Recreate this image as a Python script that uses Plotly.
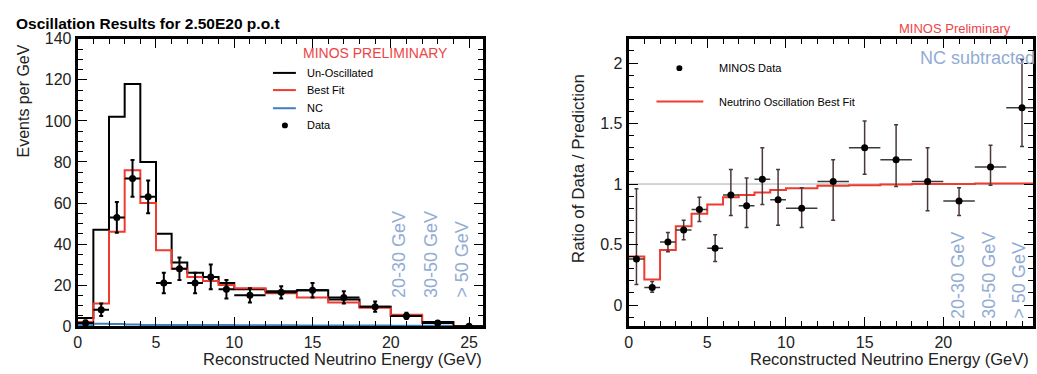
import plotly.graph_objects as go

W, H = 1037, 374

# ---------------- Data: left panel (events per GeV) ----------------
edges_L = [0, 1, 2, 3, 4, 5, 6, 7, 8, 9, 10, 12, 14, 16, 18, 20, 22, 24, 26]
unosc = [4, 47, 102, 118, 80, 45, 31, 26, 24, 21, 18, 17, 17.5, 13, 9.5, 5, 2, 0]
bestfit = [2, 11, 46, 76, 60, 37, 28, 24, 22, 20, 18.5, 16, 14, 11.5, 9, 5.5, 1.5, 0]
nc = [0.5, 1.2, 1.0, 0.8, 0.6, 0.5, 0.5, 0.5, 0.5, 0.5, 0.4, 0.4, 0.3, 0.3, 0.3, 0.2, 0.2, 0.1]

data_x = [0.5, 1.5, 2.5, 3.5, 4.5, 5.5, 6.5, 7.5, 8.5, 9.5, 11, 13, 15, 17, 19, 21, 23, 25]
data_xerr = [0.5] * 10 + [1] * 8
data_y = [1.5, 8, 53, 72, 63, 21, 28, 21, 24, 18, 15, 16.5, 17.5, 14, 9.5, 5, 1.5, 0]
data_yerr = [1.2, 3, 7.5, 9, 8, 5, 5.5, 5, 6, 4.5, 3.5, 3, 3.5, 3, 2.5, 1.5, 1, 0]

# ---------------- Data: right panel (ratio) ----------------
edges_R = [0, 1, 2, 3, 4, 5, 6, 7, 8, 9, 10, 12, 14, 16, 18, 20, 22, 24, 26]
ratio_fit = [0.40, 0.21, 0.455, 0.65, 0.755, 0.83, 0.89, 0.91, 0.93, 0.95, 0.965,
             0.985, 0.99, 0.995, 1.0, 1.0, 1.005, 1.005]
ratio_x = data_x
ratio_xerr = data_xerr
ratio_y = [0.38, 0.145, 0.52, 0.62, 0.79, 0.47, 0.91, 0.82, 1.04, 0.87, 0.80, 1.02,
           1.30, 1.20, 1.02, 0.86, 1.14, 1.63]
ratio_eup = [0.58, 0.05, 0.08, 0.08, 0.10, 0.11, 0.21, 0.23, 0.26, 0.25, 0.17, 0.18,
             0.22, 0.29, 0.28, 0.11, 0.18, 0.40]
ratio_edn = [0.21, 0.04, 0.08, 0.08, 0.10, 0.11, 0.17, 0.18, 0.21, 0.21, 0.16, 0.32,
             0.22, 0.22, 0.24, 0.12, 0.15, 0.32]
ratio_xticks = [0, 5, 10, 15, 20]

energy_labels = ["20-30 GeV", "30-50 GeV", "> 50 GeV"]

FONT = "Liberation Sans, Arial, sans-serif"
RED = "#ef3b2f"
BLUE_NC = "#3d7fc1"
LIGHTBLUE = "#92acd4"


def px(x):
    return x / W


def py(y):
    return 1 - y / H


def step(edges, vals):
    return list(edges), list(vals) + [vals[-1]]


fig = go.Figure()

# left panel traces
for vals, col in [(nc, BLUE_NC), (unosc, "black"), (bestfit, RED)]:
    xs, ys = step(edges_L, vals)
    fig.add_trace(go.Scatter(x=xs, y=ys, mode="lines", line=dict(color=col, width=2, shape="hv"),
                             xaxis="x", yaxis="y", showlegend=False, hoverinfo="skip"))

fig.add_trace(go.Scatter(
    x=data_x, y=data_y, mode="markers",
    marker=dict(color="black", size=7),
    error_x=dict(type="data", array=data_xerr, color="black", thickness=2, width=0),
    error_y=dict(type="data", array=data_yerr, color="black", thickness=2, width=2),
    xaxis="x", yaxis="y", showlegend=False))

# right panel traces
fig.add_trace(go.Scatter(x=[0, 26], y=[1, 1], mode="lines", line=dict(color="#aaaaaa", width=1),
                         xaxis="x2", yaxis="y2", showlegend=False, hoverinfo="skip"))
xs, ys = step(edges_R, ratio_fit)
fig.add_trace(go.Scatter(x=xs, y=ys, mode="lines", line=dict(color=RED, width=2, shape="hv"),
                         xaxis="x2", yaxis="y2", showlegend=False, hoverinfo="skip"))
fig.add_trace(go.Scatter(
    x=ratio_x, y=ratio_y, mode="markers",
    marker=dict(color="black", size=7),
    error_x=dict(type="data", array=ratio_xerr, color="#3a3a3a", thickness=1.5, width=0),
    error_y=dict(type="data", symmetric=False, array=ratio_eup, arrayminus=ratio_edn,
                 color="#4a3838", thickness=1.5, width=2),
    xaxis="x2", yaxis="y2", showlegend=False))

axis_common = dict(showline=True, linewidth=3, linecolor="black", mirror="ticks",
                   ticks="inside", ticklen=9, tickwidth=1, tickcolor="black",
                   showgrid=False, zeroline=False,
                   tickfont=dict(family=FONT, size=16, color="#222"))

fig.update_layout(
    width=W, height=H, margin=dict(l=0, r=0, t=0, b=0),
    paper_bgcolor="white", plot_bgcolor="white",
    xaxis=dict(domain=[px(74), px(481)], range=[0, 25.9], anchor="y", dtick=5,
               minor=dict(dtick=1, ticks="inside", ticklen=5, tickcolor="black"), **axis_common),
    yaxis=dict(domain=[py(333.3), py(32.3)], range=[0, 140], anchor="x", dtick=20,
               minor=dict(dtick=5, ticks="inside", ticklen=5, tickcolor="black"), **axis_common),
    xaxis2=dict(domain=[px(627), px(1033)], range=[0, 25.7], anchor="y2", tickvals=ratio_xticks,
                minor=dict(dtick=1, ticks="inside", ticklen=5, tickcolor="black"), **axis_common),
    yaxis2=dict(domain=[py(332.7), py(32.3)], range=[-0.17, 2.2], anchor="x2", dtick=0.5,
                minor=dict(dtick=0.1, ticks="inside", ticklen=5, tickcolor="black"), **axis_common),
)

ann = []
shapes = []


def text(x, y, s, size, color="black", xanchor="center", yanchor="middle", angle=0, bold=False):
    ann.append(dict(x=px(x), y=py(y), xref="paper", yref="paper", text=f"<b>{s}</b>" if bold else s,
                    showarrow=False, xanchor=xanchor, yanchor=yanchor, textangle=angle,
                    font=dict(family=FONT, size=size, color=color)))


# titles
text(10, 16, "Oscillation Results for 2.50E20 p.o.t", 15.5, xanchor="left", bold=True)
text(20, 97, "Events per GeV", 16, angle=-90, color="#222")
text(482, 368, "Reconstructed Neutrino Energy (GeV)", 16.5, xanchor="right", color="#222")
text(577, 168, "Ratio of Data / Prediction", 17, angle=-90, color="#222")
text(1031, 368, "Reconstructed Neutrino Energy (GeV)", 16.5, xanchor="right", color="#222")

# left legend
text(373, 47, "MINOS PRELIMINARY", 14, color="#ee4444")
leg_rows = [("Un-Oscillated", "black", 68), ("Best Fit", RED, 86), ("NC", BLUE_NC, 105)]
for lab, col, yy in leg_rows:
    shapes.append(dict(type="line", xref="paper", yref="paper", x0=px(270), x1=px(293),
                       y0=py(yy), y1=py(yy), line=dict(color=col, width=2)))
    text(302, yy, lab, 11, xanchor="left")
shapes.append(dict(type="circle", xref="paper", yref="paper", x0=px(279), x1=px(285),
                   y0=py(126), y1=py(120), fillcolor="black", line=dict(color="black", width=0)))
text(302, 123, "Data", 11, xanchor="left")

# right legend
text(1013, 21, "MINOS Preliminary", 13, color="#ee4444", xanchor="right")
text(1037, 52, "NC subtracted", 18, color=LIGHTBLUE, xanchor="right")
shapes.append(dict(type="circle", xref="paper", yref="paper", x0=px(675), x1=px(681),
                   y0=py(66), y1=py(60), fillcolor="black", line=dict(color="black", width=0)))
text(716, 63, "MINOS Data", 11, xanchor="left")
shapes.append(dict(type="line", xref="paper", yref="paper", x0=px(655), x1=px(702),
                   y0=py(98), y1=py(98), line=dict(color=RED, width=2)))
text(716, 98, "Neutrino Oscillation Best Fit", 11, xanchor="left")

# energy overflow labels
for lab, xx in zip(energy_labels, [396, 428, 459]):
    text(xx, 306, lab, 18, color=LIGHTBLUE, yanchor="bottom", angle=-90)
for lab, xx in zip(energy_labels, [957, 988, 1019]):
    text(xx, 328, lab, 18, color=LIGHTBLUE, yanchor="bottom", angle=-90)

fig.update_layout(annotations=ann, shapes=shapes)
fig.write_html("out.html")
